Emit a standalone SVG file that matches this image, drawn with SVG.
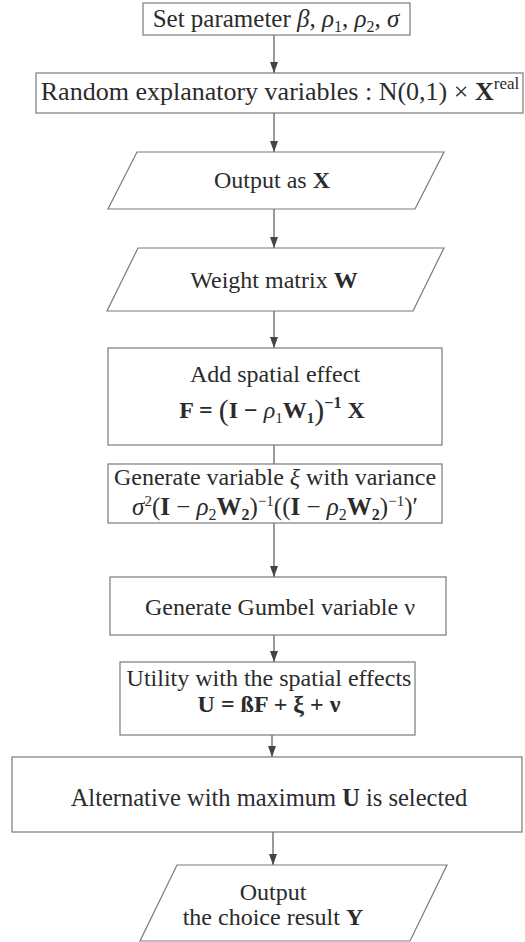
<svg xmlns="http://www.w3.org/2000/svg" width="525" height="942" viewBox="0 0 525 942">
<style>
.box{fill:#fff;stroke:#7a7a7a;stroke-width:1.2}
.t{font-family:"Liberation Serif","Times New Roman",serif;font-size:24px;fill:#2b2b2b;text-anchor:middle}
.b{font-weight:bold}
.i{font-style:italic}
.n{font-weight:normal}
.conn{stroke:#555;stroke-width:1.2;fill:none}
</style>
<defs>
<marker id="ah" markerUnits="userSpaceOnUse" markerWidth="11" markerHeight="8" refX="11" refY="4" orient="auto">
<path d="M0,0 L11,4 L0,8 z" fill="#444"/>
</marker>
</defs>
<rect width="525" height="942" fill="#fff"/>
<g id="connectors">
<line class="conn" x1="274" y1="35" x2="274" y2="73" marker-end="url(#ah)"/>
<line class="conn" x1="274" y1="113" x2="274" y2="152" marker-end="url(#ah)"/>
<line class="conn" x1="274" y1="209" x2="274" y2="248" marker-end="url(#ah)"/>
<line class="conn" x1="274" y1="311" x2="274" y2="348" marker-end="url(#ah)"/>
<line class="conn" x1="274" y1="445" x2="274" y2="464"/>
<line class="conn" x1="274" y1="523" x2="274" y2="577" marker-end="url(#ah)"/>
<line class="conn" x1="274" y1="635" x2="274" y2="662" marker-end="url(#ah)"/>
<line class="conn" x1="272" y1="735" x2="272" y2="757" marker-end="url(#ah)"/>
<line class="conn" x1="273" y1="832" x2="273" y2="865" marker-end="url(#ah)"/>
</g>
<g id="setParam">
<rect class="box" x="143" y="3" width="267" height="32"/>
<text class="t" x="276" y="27" style="font-size:25px">Set parameter <tspan class="i">β</tspan>, <tspan class="i">ρ</tspan><tspan font-size="16" dy="5">1</tspan><tspan dy="-5">, </tspan><tspan class="i">ρ</tspan><tspan font-size="16" dy="5">2</tspan><tspan dy="-5">, </tspan><tspan class="i">σ</tspan></text>
</g>
<g id="randomVars">
<rect class="box" x="36" y="73" width="487" height="40"/>
<text class="t" x="280" y="100" style="font-size:26px">Random explanatory variables :  N(0,1) × <tspan class="b">X</tspan><tspan font-size="17" dy="-11">real</tspan></text>
</g>
<g id="outputX">
<polygon class="box" points="137,152 444,152 415,209 108,209"/>
<text class="t" x="272" y="188">Output as <tspan class="b">X</tspan></text>
</g>
<g id="weightMatrix">
<polygon class="box" points="138,248 444,248 413,311 107,311"/>
<text class="t" x="274" y="288">Weight matrix <tspan class="b">W</tspan></text>
</g>
<g id="spatialEffect">
<rect class="box" x="108" y="348" width="334" height="97"/>
<text class="t" x="275" y="382">Add spatial effect</text>
<text class="t b" x="272" y="418">F = <tspan class="n" font-size="30" dy="2">(</tspan><tspan dy="-2">I − </tspan><tspan class="i n">ρ</tspan><tspan class="n" font-size="15" dy="5">1</tspan><tspan dy="-5">W</tspan><tspan font-size="15" dy="5">1</tspan><tspan class="n" font-size="30" dy="-3">)</tspan><tspan font-size="16" dy="-12">−1</tspan><tspan dy="10"> X</tspan></text>
</g>
<g id="generateXi">
<rect class="box" x="108" y="464" width="334" height="59"/>
<text class="t" x="275" y="485">Generate variable <tspan class="i">ξ</tspan> with variance</text>
<text class="t" x="275" y="515" style="font-size:25px"><tspan class="i">σ</tspan><tspan font-size="15" dy="-9">2</tspan><tspan dy="9">(</tspan><tspan class="b">I</tspan> − <tspan class="i">ρ</tspan><tspan font-size="16" dy="5">2</tspan><tspan class="b" dy="-5">W</tspan><tspan class="b" font-size="16" dy="5">2</tspan><tspan dy="-5">)</tspan><tspan font-size="15" dy="-9">−1</tspan><tspan dy="9">((</tspan><tspan class="b">I</tspan> − <tspan class="i">ρ</tspan><tspan font-size="16" dy="5">2</tspan><tspan class="b" dy="-5">W</tspan><tspan class="b" font-size="16" dy="5">2</tspan><tspan dy="-5">)</tspan><tspan font-size="15" dy="-9">−1</tspan><tspan dy="9">)′</tspan></text>
</g>
<g id="gumbel">
<rect class="box" x="110" y="577" width="336" height="58"/>
<text class="t" x="280" y="615">Generate Gumbel variable ν</text>
</g>
<g id="utility">
<rect class="box" x="120" y="662" width="295" height="73"/>
<text class="t" x="269" y="686">Utility with the spatial effects</text>
<text class="t b" x="269" y="712">U = ßF + ξ + ν</text>
</g>
<g id="alternative">
<rect class="box" x="12" y="757" width="510" height="75"/>
<text class="t" x="269" y="806" style="font-size:24.5px">Alternative with maximum <tspan class="b">U</tspan> is selected</text>
</g>
<g id="outputY">
<polygon class="box" points="177,865 447,865 410,941 140,941"/>
<text class="t" x="273" y="900">Output</text>
<text class="t" x="273" y="925">the choice result <tspan class="b">Y</tspan></text>
</g>
</svg>
